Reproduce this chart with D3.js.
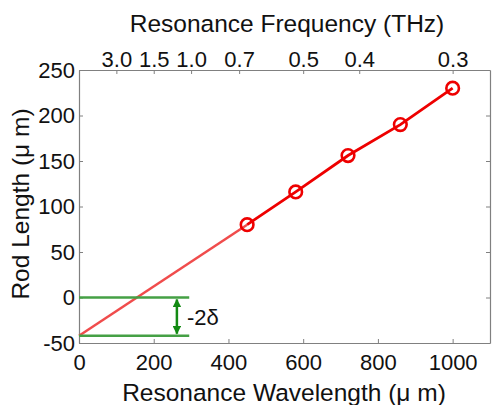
<!DOCTYPE html>
<html>
<head>
<meta charset="utf-8">
<script src="https://cdn.jsdelivr.net/npm/d3@7"></script>
<style>
  body { margin: 0; background: #fff; }
  svg text { font-family: "Liberation Sans", Arial, sans-serif; fill: #111; }
</style>
</head>
<body>
<svg id="chart" width="492" height="405"></svg>
<script>
// data
var wavelength = [450, 580, 720, 860, 1000];
var rodLength = [80, 116, 156, 190, 230];
var extrapX = [0, 450];
var extrapY = [-42, 80];
var guideLevels = [0, -42];
var guideEnd = 295;
var arrowAt = 262;
var yTicks = [-50, 0, 50, 100, 150, 200, 250];
var xTicks = [0, 200, 400, 600, 800, 1000];
var freqTicks = [3.0, 1.5, 1.0, 0.7, 0.5, 0.4, 0.3];

var svg = d3.select('#chart');
var mLeft = 79, mRight = 490, mTop = 70, mBottom = 343;

var x = d3.scaleLinear().domain([0, 1100]).range([mLeft, mRight]);
var y = d3.scaleLinear().domain([-50, 250]).range([mBottom, mTop]);

var axisColor = '#808080';
var plain = function(d){ return String(d); };  // keep ascii hyphen like the original

// bottom axis
var gx = svg.append('g').attr('transform', 'translate(0,' + mBottom + ')')
  .call(d3.axisBottom(x).tickValues(xTicks).tickFormat(plain)
    .tickSizeInner(-4).tickSizeOuter(0).tickPadding(11));
// left axis
var gy = svg.append('g').attr('transform', 'translate(' + mLeft + ',0)')
  .call(d3.axisLeft(y).tickValues(yTicks).tickFormat(plain)
    .tickSizeInner(-4).tickSizeOuter(0).tickPadding(4));
// top axis (frequency in THz, lambda = 300 / f um)
var gt = svg.append('g').attr('transform', 'translate(0,' + mTop + ')')
  .call(d3.axisTop(x).tickValues(freqTicks.map(function(f){ return 300 / f; }))
    .tickFormat(function(d){ return (300 / d).toFixed(1); })
    .tickSizeInner(-4).tickSizeOuter(0).tickPadding(3));
// right axis
var gr = svg.append('g').attr('transform', 'translate(' + mRight + ',0)')
  .call(d3.axisRight(y).tickValues(yTicks).tickSizeInner(-4).tickSizeOuter(0).tickFormat(''));

[gx, gy, gt, gr].forEach(function(g) {
  g.select('.domain').attr('stroke', axisColor).attr('stroke-width', 1.2);
  g.selectAll('.tick line').attr('stroke', axisColor);
  g.selectAll('.tick text').attr('font-size', 22).attr('fill', '#111')
    .attr('font-family', '"Liberation Sans", Arial, sans-serif');
});

// extrapolated part of the fit
var line = d3.line().x(function(d){ return x(d[0]); }).y(function(d){ return y(d[1]); });
svg.append('path')
  .attr('d', line(d3.zip(extrapX, extrapY)))
  .attr('fill', 'none').attr('stroke', '#f04c4c').attr('stroke-width', 2.5);

// green guide lines
svg.selectAll('.guide').data(guideLevels).enter().append('line')
  .attr('class', 'guide')
  .attr('x1', x(0)).attr('x2', x(guideEnd))
  .attr('y1', function(d){ return y(d); }).attr('y2', function(d){ return y(d); })
  .attr('stroke', '#45a045').attr('stroke-width', 2.5);

// double arrow
var defs = svg.append('defs');
defs.append('marker').attr('id', 'ah').attr('viewBox', '0 0 10 10')
  .attr('refX', 9).attr('refY', 5).attr('markerWidth', 3.4).attr('markerHeight', 3.4)
  .attr('orient', 'auto-start-reverse').attr('markerUnits', 'strokeWidth')
  .append('path').attr('d', 'M0,0 L10,5 L0,10 z').attr('fill', '#138a13');
svg.append('line')
  .attr('x1', x(arrowAt)).attr('x2', x(arrowAt))
  .attr('y1', y(guideLevels[0]) + 2).attr('y2', y(guideLevels[1]) - 2)
  .attr('stroke', '#138a13').attr('stroke-width', 2.5)
  .attr('marker-start', 'url(#ah)').attr('marker-end', 'url(#ah)');
svg.append('text')
  .attr('x', x(arrowAt) + 10).attr('y', (y(guideLevels[0]) + y(guideLevels[1])) / 2 + 8)
  .attr('font-size', 22).text('-2\u03b4');

// measured line and markers
svg.append('path')
  .attr('d', line(d3.zip(wavelength, rodLength)))
  .attr('fill', 'none').attr('stroke', '#ee0000').attr('stroke-width', 2.8);
svg.selectAll('.pt').data(d3.zip(wavelength, rodLength)).enter().append('circle')
  .attr('class', 'pt')
  .attr('cx', function(d){ return x(d[0]); }).attr('cy', function(d){ return y(d[1]); })
  .attr('r', 6.3).attr('fill', 'none').attr('stroke', '#ee0000').attr('stroke-width', 2.6);

// titles
svg.append('text').attr('x', 287).attr('y', 32).attr('text-anchor', 'middle')
  .attr('font-size', 24.5).text('Resonance Frequency (THz)');
svg.append('text').attr('x', 284).attr('y', 401).attr('text-anchor', 'middle')
  .attr('font-size', 24.5).text('Resonance Wavelength (\u03bc m)');
svg.append('text').attr('transform', 'translate(29,204) rotate(-90)').attr('text-anchor', 'middle')
  .attr('font-size', 24.5).text('Rod Length (\u03bc m)');
</script>
</body>
</html>
